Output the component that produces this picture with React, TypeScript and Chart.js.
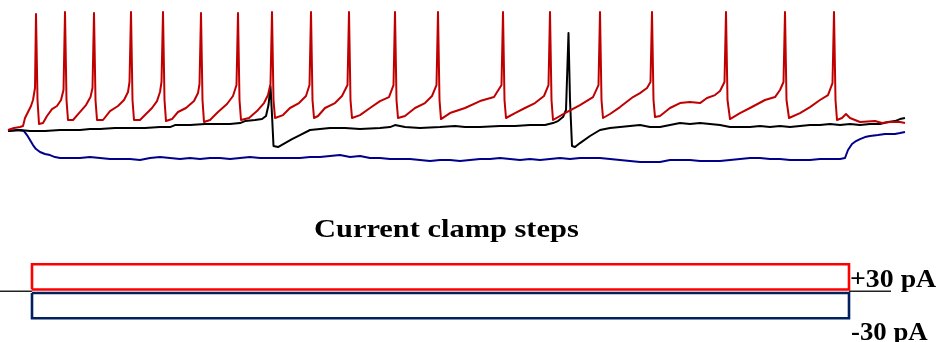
import React, { useEffect, useRef } from "react";
import { Chart, registerables } from "chart.js";

Chart.register(...registerables);

// time in ms (0 = current step onset), membrane potential in mV
const RED_TRACE: [number, number][] = [
  [-24, -65], [-18, -63.5], [-12, -62.8], [-9, -62], [-7, -56], [-4, -51.5], [-1, -47], [1, -42.5], [3, -33.5], [4, 22],
  [5.5, -42.5], [7, -60.5], [11, -59.8], [15, -54.5], [20, -49.3], [25, -47], [29, -42.5], [31.5, -35], [33, 23.5],
  [34.5, -42.5], [36, -57.5], [41, -57.5], [47, -52.3], [54, -46.3], [58.5, -40.3], [60.5, -33.5], [62, 22.8],
  [63.5, -42.5], [65, -57.5], [71, -57.5], [78, -50.8], [86, -47], [92, -42.5], [96, -36.5], [97.5, -29], [99, 23.5],
  [100.5, -42.5], [102, -57.5], [108, -57.5], [113, -53.8], [120, -48.5], [125, -43.3], [128, -36.5], [129.5, -29], [131, 23.5],
  [132.5, -42.5], [134, -58.3], [140, -56.8], [146, -51.5], [154, -48.5], [162, -43.3], [166, -37.3], [167.5, -30.5], [169, 22.8],
  [170.5, -42.5], [172, -59], [178, -57.5], [186, -51.5], [195, -45.5], [201, -39.5], [204.5, -31.3], [206, 22.8],
  [207.5, -42.5], [209, -57.5], [217, -56], [225, -50.8], [232, -44.8], [236, -38.8], [238.5, -30.5], [240, 23.5],
  [241.5, -42.5], [243, -56], [251, -53.8], [258, -48.5], [267, -44.8], [274, -39.5], [277.5, -31.3], [279, 23.5],
  [280.5, -42.5], [282, -56], [286, -54.5], [293, -48.5], [303, -44.8], [310, -39.5], [315.5, -31.3], [317, 23.5],
  [318.5, -42.5], [320, -56], [328, -53.8], [338, -48.5], [348, -43.3], [357, -40.3], [361.5, -31.3], [363, 23.5],
  [364.5, -42.5], [366, -56], [373, -54.5], [383, -48.5], [393, -44.8], [400, -39.5], [404.5, -31.3], [406, 23.5],
  [407.5, -42.5], [409, -56.8], [418, -52.3], [433, -48.5], [448, -43.3], [462, -40.3], [469.5, -31.3], [471, 23.5],
  [472.5, -42.5], [474, -56], [483, -52.3], [493, -48.5], [503, -44.8], [512, -39.5], [516.5, -31.3], [518, 23.5],
  [519.5, -42.5], [521, -57.5], [533, -52.3], [548, -46.3], [561, -40.3], [566.5, -31.3], [568, 23.5],
  [569.5, -42.5], [571, -56], [578, -53], [588, -47.8], [601, -40.3], [608, -37.3], [615, -33.5], [618.5, -29], [620, 23.5],
  [621.5, -42.5], [623, -55.3], [628, -54.5], [638, -48.5], [648, -44.8], [658, -44], [668, -44.8], [675, -41], [683, -38.8],
  [688, -35.8], [692.5, -29], [694, 23.5],
  [695.5, -42.5], [698, -56.8], [708, -52.3], [718, -48.5], [733, -42.5], [743, -40.3], [748, -35], [751.5, -29], [753, 23.5],
  [754.5, -42.5], [757, -56], [768, -52.3], [778, -47.8], [788, -42.5], [796, -38.8], [800.5, -29.8], [802, 23.5],
  [803.5, -42.5], [805, -57.5], [810, -56], [814, -53], [818, -56], [828, -59], [843, -58.3], [850, -59.8], [858, -59],
  [868, -59], [873, -59.8],
];

const BLACK_TRACE: [number, number][] = [
  [-24, -65.8], [-12, -65], [-2, -65.8], [13, -65.8], [28, -65], [38, -65], [48, -65], [58, -64.3], [68, -64.3], [83, -63.5],
  [98, -63.5], [113, -63.5], [128, -62.8], [138, -62.8], [143, -61.3], [158, -61.3], [173, -60.5], [188, -60.5], [198, -60.5],
  [208, -59.8], [213, -58.3], [223, -57.5], [230, -56.8], [234, -54.5], [236.5, -46.3], [238.5, -32], [240, -53.8],
  [241.5, -77], [246, -77.8], [253, -74.8], [260, -71.8], [268, -68.8], [278, -65], [288, -64.3], [298, -63.5], [313, -63.5],
  [328, -64.3], [348, -63.5], [358, -62.8], [363, -61.3], [373, -62.8], [388, -63.5], [408, -62.8], [423, -62], [433, -62.8],
  [448, -62.8], [468, -62], [483, -62], [498, -61.3], [513, -61.3], [521, -59.8], [526, -58.3], [531, -55.3], [534, -50],
  [536.5, 7.8], [538, -42.5], [540, -77], [543, -77.8], [548, -74.8], [558, -69.5], [568, -65], [578, -63.5], [588, -62.8],
  [598, -62], [608, -61.3], [618, -62.8], [628, -62.8], [638, -61.3], [648, -59.8], [658, -60.5], [668, -59.8], [678, -60.5],
  [688, -61.3], [698, -62.8], [708, -62.8], [718, -62.8], [728, -62], [738, -62.8], [748, -62], [758, -62.8], [768, -62],
  [778, -61.3], [788, -61.3], [798, -60.5], [808, -61.3], [818, -60.5], [828, -61.3], [838, -60.5], [848, -60.5], [856, -59],
  [863, -58.3], [868, -56.8], [873, -56],
];

const BLUE_TRACE: [number, number][] = [
  [-24, -65.8], [-14, -65], [-8, -65.8], [-5, -68.8], [-2, -72.5], [1, -76.3], [4, -79.3], [8, -81.5], [13, -83], [18, -83.8],
  [23, -85.3], [28, -86], [38, -86], [48, -86], [58, -85.3], [68, -86], [78, -86.8], [88, -86.8], [98, -86.8], [108, -87.5],
  [118, -86], [128, -85.3], [138, -86], [148, -86.8], [158, -86], [168, -86.8], [178, -86], [188, -86], [198, -86.8], [208, -86],
  [218, -85.3], [228, -86], [238, -86], [248, -86], [258, -86], [268, -86], [278, -85.3], [288, -85.3], [298, -84.5], [308, -83.8],
  [318, -85.3], [328, -84.5], [338, -86], [348, -86], [358, -86.8], [368, -86.8], [378, -86.8], [388, -87.5], [398, -88.3],
  [408, -87.5], [418, -87.5], [428, -88.3], [438, -87.5], [448, -86.8], [458, -86.8], [468, -86], [478, -86.8], [488, -87.5],
  [498, -86.8], [508, -87.5], [518, -86.8], [528, -86], [538, -86.8], [548, -86], [558, -86], [568, -86], [578, -86.8],
  [588, -87.5], [598, -88.3], [608, -89], [618, -89], [628, -89], [638, -87.5], [648, -87.5], [658, -87.5], [668, -88.3],
  [678, -88.3], [688, -88.3], [698, -87.5], [708, -86.8], [718, -86], [728, -86], [738, -86.8], [748, -86.8], [758, -87.5],
  [768, -87.5], [778, -87.5], [788, -86.8], [798, -86.8], [808, -86.8], [813, -86], [816, -80], [820, -75.5], [824, -73.3],
  [828, -71.8], [833, -70.3], [838, -69.5], [846, -68.8], [853, -68], [858, -68], [863, -68], [868, -67.3], [873, -66.5],
];

// current clamp steps (pA), drawn as outlined boxes
const STEP_START = 0;
const STEP_END = 817;
const PLUS_STEP = [2, 30];
const MINUS_STEP = [-2, -30];
const ZERO_LINE: [number, number | null][] = [[-32, 0], [0, 0], [0, null], [STEP_END, 0], [859, 0]];

const TITLE = "Current clamp steps";
const PLUS_LABEL = "+30 pA";
const MINUS_LABEL = "-30 pA";

const toPts = (arr: [number, number | null][]) => arr.map(([x, y]) => ({ x, y }));
const box = (lo: number, hi: number) => [
  { x: STEP_START, y: lo }, { x: STEP_START, y: hi }, { x: STEP_END, y: hi }, { x: STEP_END, y: lo }, { x: STEP_START, y: lo },
];

export default function App() {
  const ref = useRef<HTMLCanvasElement>(null);
  useEffect(() => {
    if (!ref.current) return;
    const common = { pointRadius: 0, tension: 0, fill: false, borderJoinStyle: "round" as const };
    const chart = new Chart(ref.current, {
      type: "line",
      data: {
        datasets: [
          { ...common, data: toPts(RED_TRACE), borderColor: "#c00000", borderWidth: 2, yAxisID: "y" },
          { ...common, data: toPts(BLACK_TRACE), borderColor: "#000000", borderWidth: 2, yAxisID: "y" },
          { ...common, data: toPts(BLUE_TRACE), borderColor: "#00008b", borderWidth: 2, yAxisID: "y" },
          { ...common, data: box(PLUS_STEP[0], PLUS_STEP[1]), borderColor: "#ff0000", borderWidth: 2.6, borderJoinStyle: "miter", yAxisID: "y2" },
          { ...common, data: box(MINUS_STEP[0], MINUS_STEP[1]), borderColor: "#002060", borderWidth: 2.6, borderJoinStyle: "miter", yAxisID: "y2" },
          { ...common, data: toPts(ZERO_LINE), borderColor: "#222222", borderWidth: 1.4, spanGaps: false, yAxisID: "y2" },
        ],
      },
      options: {
        animation: false,
        responsive: false,
        devicePixelRatio: 1,
        layout: { padding: 0 },
        plugins: { legend: { display: false }, tooltip: { enabled: false }, title: { display: false } },
        scales: {
          x: { type: "linear", min: -32, max: 908, display: false },
          y: { type: "linear", min: -224, max: 32.5, display: false },
          y2: { type: "linear", min: -56.4, max: 323.6, display: false, position: "right" },
        },
      },
    });
    return () => chart.destroy();
  }, []);

  const font: React.CSSProperties = {
    position: "absolute",
    fontFamily: '"Liberation Serif", "Times New Roman", serif',
    fontWeight: "bold",
    whiteSpace: "nowrap",
    lineHeight: 1,
    transformOrigin: "left top",
    color: "#000",
    fontSize: 26,
  };

  return (
    <div style={{ position: "absolute", left: 0, top: 0, width: 940, height: 342, background: "#fff", overflow: "hidden" }}>
      <canvas ref={ref} width={940} height={342} style={{ display: "block", width: 940, height: 342 }} />
      <div style={{ ...font, left: 314, top: 215.7, transform: "scaleX(1.17)" }}>{TITLE}</div>
      <div style={{ ...font, left: 850, top: 266, transform: "scaleX(1.07)" }}>{PLUS_LABEL}</div>
      <div style={{ ...font, left: 851, top: 318.7, transform: "scaleX(1.03)" }}>{MINUS_LABEL}</div>
    </div>
  );
}
